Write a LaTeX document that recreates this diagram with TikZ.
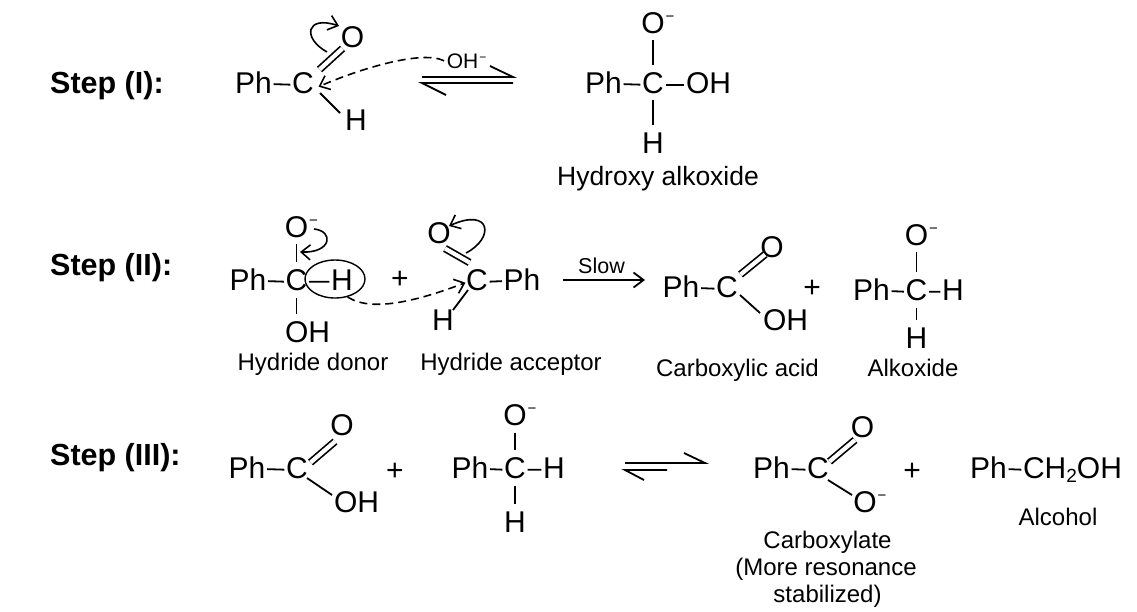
\documentclass[tikz,border=0pt]{standalone}
\usepackage{fontspec}
\setmainfont{Liberation Sans}
\usetikzlibrary{arrows.meta,calc,shapes.geometric}
\newcommand\chemf{\fontsize{30}{36}\selectfont}
\newcommand\smallf{\fontsize{21}{25}\selectfont}
\newcommand\labf{\fontsize{24}{28}\selectfont}
\newcommand\labIf{\fontsize{26.5}{31}\selectfont}
\newcommand\slowf{\fontsize{21.5}{25}\selectfont}
\newcommand\stepf{\fontsize{30.5}{36}\selectfont\bfseries}
\newcommand\cminus{\rlap{\kern1pt\raisebox{12pt}{\fontsize{15}{15}\selectfont −}}}
\newcommand\sminus{\rlap{\kern1pt\raisebox{7pt}{\fontsize{12}{12}\selectfont −}}}
\newcommand\subtwo{\raisebox{-4.5pt}[0pt][0pt]{\fontsize{19}{19}\selectfont 2}}
\begin{document}
\begin{tikzpicture}[x=1pt,y=-1pt,
  atom/.style={font=\chemf, inner sep=1.5pt, anchor=base},
  lab/.style={font=\labf, inner sep=0pt, anchor=base},
  steplab/.style={font=\stepf, inner sep=0pt, anchor=base west},
  bond/.style={line width=1.8pt},
  vbond/.style={bond, shorten <=5.5pt, shorten >=5.5pt},
  dbond/.style={double, double distance=4.2pt, line width=1.7pt},
  curly/.style={line width=1.6pt, -{Straight Barb[length=9pt,width=15pt]}},
  dasharrow/.style={line width=1.6pt, dash pattern=on 8pt off 5pt, -{Straight Barb[length=9pt,width=15pt]}},
  rxn/.style={line width=1.8pt}]
\useasboundingbox (0,0) rectangle (1137,611);
\fill[white] (0,0) rectangle (1137,611);

% step labels
\node[steplab] (s1) at (50,93) {Step (I):};
\node[steplab] (s2) at (50,275) {Step (II):};
\node[steplab] (s3) at (50,465) {Step (III):};

% ===== Step I reactant
\node[atom] (Ph1) at (253.5,93) {Ph};
\node[atom] (C1) at (303,93) {C};
\node[atom] (O1) at (352.5,47) {O};
\node[atom] (H1) at (356,130) {H};
\draw[bond] ([yshift=-2pt]Ph1.east) -- ([yshift=-2pt]C1.west);
\draw[dbond] ($(C1.base)+(16.5,-23.5)$) -- ($(O1.base)+(-10,1.5)$);
\draw[bond] ($(C1.base)+(17,0)$) -- ($(H1.base)+(-16,-17)$);
\coordinate (cu1s) at (327,52);
\coordinate (cu1e) at (339,26);
\draw[curly] (cu1s) .. controls (302,38) and (306,15) .. (cu1e);
\node[atom, font=\smallf] (OHm) at (462.5,68) {OH\sminus};
\draw[dasharrow] ($(OHm.west)+(-1,0)$) .. controls (422,50) and (362,68) .. ($(C1.east)+(3,4)$);

% equilibrium I
\coordinate (e1a) at (422,77);
\coordinate (e1b) at (513,77);
\coordinate (e1c) at (513,83);
\coordinate (e1d) at (422,83);
\draw[rxn] (e1a) -- (e1b) -- ++(-23,-11);
\draw[rxn] (e1c) -- (e1d) -- ++(24,12);

% ===== Step I product
\node[atom] (O2) at (653,33) {O\cminus};
\node[atom] (Ph2) at (603.5,93) {Ph};
\node[atom] (C2) at (653,93) {C};
\node[atom] (OH2) at (708.5,93) {OH};
\node[atom] (H2) at (653,153) {H};
\draw[bond] ([yshift=-2pt]Ph2.east) -- ([yshift=-2pt]C2.west);
\draw[bond] ([yshift=-2pt]C2.east) -- ([yshift=-2pt]OH2.west);
\draw[vbond] (O2) -- (C2);
\draw[vbond] (C2) -- (H2);
\node[lab, font=\labIf] (L1) at (658,185) {Hydroxy alkoxide};

% ===== Step II donor
\node[atom] (Ph3) at (248,290) {Ph};
\node[atom] (C3) at (296.5,290) {C};
\node[atom] (O3) at (296.5,237) {O\cminus};
\node[atom] (H3) at (342,290) {H};
\node[atom] (OH3) at (307.5,342) {OH};
\draw[bond] ([yshift=-2pt]Ph3.east) -- ([yshift=-2pt]C3.west);
\draw[bond] ([yshift=-2pt]C3.east) -- ([yshift=-2pt]H3.west);
\draw[vbond] (O3) -- (C3);
\draw[vbond] (C3) -- (C3 |- OH3.north);
\node[draw, ellipse, line width=1.4pt, minimum width=60pt, minimum height=38pt, inner sep=0pt] (ring) at (335,279) {};
\coordinate (cu2s) at (314,229);
\coordinate (cu2e) at (300,252);
\draw[curly] (cu2s) .. controls (334,231) and (332,253) .. (cu2e);

\node[atom] (plus2) at (400,288.5) {+};

% acceptor
\node[atom] (O4) at (439,243) {O};
\node[atom] (C4) at (477,290) {C};
\node[atom] (Ph4) at (522,290) {Ph};
\node[atom] (H4) at (443,330) {H};
\draw[dbond] ($(O4.base)+(6,5.5)$) -- ($(C4.base)+(-7.5,-27.5)$);
\draw[bond] ([yshift=-2pt]C4.east) -- ([yshift=-2pt]Ph4.west);
\draw[bond] ($(C4.base)+(-9,0)$) -- ($(H4.base)+(10,-20)$);
\coordinate (cu3s) at (466,253);
\coordinate (cu3e) at (449,226);
\draw[curly] (cu3s) .. controls (495,238) and (491,207) .. (cu3e);
\draw[dasharrow] (ring.-55) .. controls (372,313) and (420,300) .. ($(C4.west)+(1,3)$);

% slow arrow
\coordinate (sl1) at (563,280);
\coordinate (sl2) at (645,280);
\draw[rxn, -{Straight Barb[length=10pt,width=15pt]}] (sl1) -- (sl2);
\node[lab, font=\slowf] (slow) at (601.5,273) {Slow};

% carboxylic acid
\node[atom] (Ph5) at (681,297) {Ph};
\node[atom] (C5) at (727,297) {C};
\node[atom] (O5) at (772,257) {O};
\node[atom] (OH5) at (785.5,330) {OH};
\draw[bond] ([yshift=-2pt]Ph5.east) -- ([yshift=-2pt]C5.west);
\draw[dbond] ($(C5.base)+(13.5,-22.5)$) -- ($(O5.base)+(-7,-2.5)$);
\draw[bond] ($(C5.base)+(13,-2)$) -- ($(OH5.base)+(-25.5,-17)$);

\node[atom] (plus3) at (812,297.5) {+};

% alkoxide II
\node[atom] (Ph6) at (871.5,300) {Ph};
\node[atom] (C6) at (916.5,300) {C};
\node[atom] (H6) at (953,300) {H};
\node[atom] (O6) at (916.5,245) {O\cminus};
\node[atom] (H6b) at (916.5,348) {H};
\draw[bond] ([yshift=-2pt]Ph6.east) -- ([yshift=-2pt]C6.west);
\draw[bond] ([yshift=-2pt]C6.east) -- ([yshift=-2pt]H6.west);
\draw[vbond] (O6) -- (C6);
\draw[vbond] (C6) -- (H6b);

\node[lab] (L2) at (313,370) {Hydride donor};
\node[lab] (L3) at (511,370) {Hydride acceptor};
\node[lab] (L4) at (737.5,376) {Carboxylic acid};
\node[lab] (L5) at (913,376) {Alkoxide};

% ===== Step III
\node[atom] (Ph7) at (247,478) {Ph};
\node[atom] (C7) at (297,478) {C};
\node[atom] (O7) at (342,435) {O};
\node[atom] (OH7) at (356.5,512) {OH};
\draw[bond] ([yshift=-2pt]Ph7.east) -- ([yshift=-2pt]C7.west);
\draw[dbond] ($(C7.base)+(13.5,-15.5)$) -- ($(O7.base)+(-7,6.5)$);
\draw[bond] ($(C7.base)+(10,0)$) -- ($(OH7.base)+(-24.5,-17)$);

\node[atom] (plus4) at (395,480.5) {+};

\node[atom] (Ph8) at (470,478) {Ph};
\node[atom] (C8) at (515,478) {C};
\node[atom] (H8) at (554,478) {H};
\node[atom] (O8) at (515,425) {O\cminus};
\node[atom] (H8b) at (515,532) {H};
\draw[bond] ([yshift=-2pt]Ph8.east) -- ([yshift=-2pt]C8.west);
\draw[bond] ([yshift=-2pt]C8.east) -- ([yshift=-2pt]H8.west);
\draw[vbond] (O8) -- (C8);
\draw[vbond] (C8) -- (H8b);

% equilibrium III
\coordinate (e3a) at (625,463);
\coordinate (e3b) at (705,463);
\coordinate (e3c) at (667,470);
\coordinate (e3d) at (625,470);
\draw[rxn] (e3a) -- (e3b) -- ++(-21,-10);
\draw[rxn] (e3c) -- (e3d) -- ++(19,10);

% carboxylate
\node[atom] (Ph9) at (771.5,478) {Ph};
\node[atom] (C9) at (818,478) {C};
\node[atom] (O9) at (862.5,437) {O};
\node[atom] (O9b) at (865,512) {O\cminus};
\draw[bond] ([yshift=-2pt]Ph9.east) -- ([yshift=-2pt]C9.west);
\draw[dbond] ($(C9.base)+(11.5,-16.5)$) -- ($(O9.base)+(-7.5,3)$);
\draw[bond] ($(C9.base)+(10,2)$) -- ($(O9b.base)+(-13,-17)$);

\node[atom] (plus5) at (912,480.5) {+};

\node[atom] (Ph10) at (988.5,478) {Ph};
\node[atom] (CH2OH) at (1072.5,478) {CH\subtwo OH};
\draw[bond] ([yshift=-2pt]Ph10.east) -- ([yshift=-2pt]CH2OH.west);

\node[lab] (L6) at (1058,525) {Alcohol};
\node[lab] (L7a) at (827.5,548) {Carboxylate};
\node[lab] (L7b) at (826,575) {(More resonance};
\node[lab] (L7c) at (827.5,602) {stabilized)};
\end{tikzpicture}
\end{document}
